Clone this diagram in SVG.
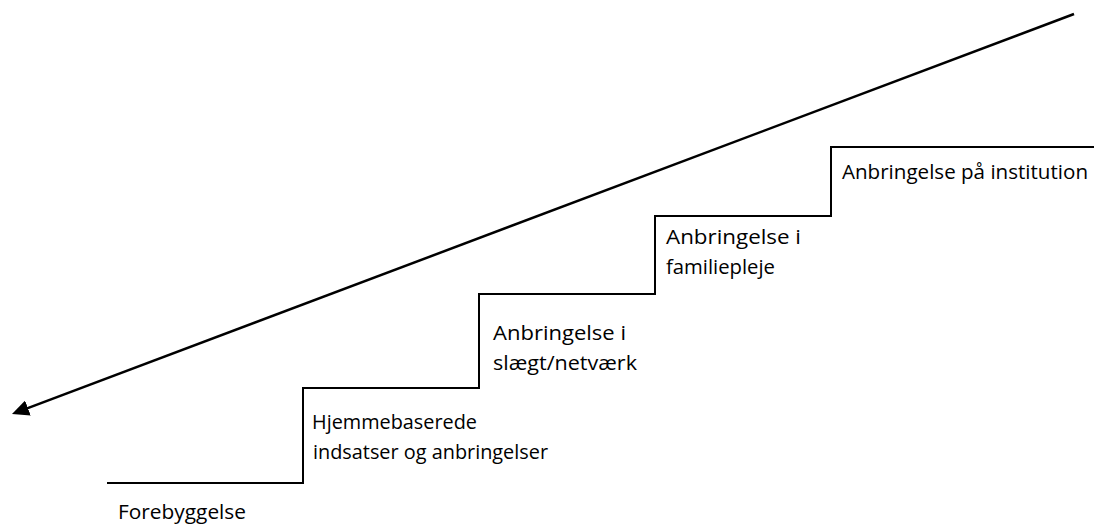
<svg xmlns="http://www.w3.org/2000/svg" width="1094" height="526" viewBox="0 0 1094 526">
<style>
  .lbl { font-family: "Open Sans", "Liberation Sans", Arial, sans-serif; font-size: 20.5px; fill: #000; }
  .stair { fill: none; stroke: #000; stroke-width: 2; }
  .arrow { fill: none; stroke: #000; stroke-width: 2.5; }
</style>
<defs>
  <marker id="head" viewBox="0 0 17 16" refX="3" refY="8" markerWidth="17" markerHeight="16" markerUnits="userSpaceOnUse" orient="auto">
    <path d="M0,0 L17,8 L0,16 z" fill="#000"/>
  </marker>
</defs>
<rect width="1094" height="526" fill="#fff"/>
<g id="connectors">
  <path id="stairs" class="stair" d="M107,483 H303 V388 H479 V294 H655 V216 H831 V147 H1094"/>
  <line id="arrow" class="arrow" x1="1074" y1="14" x2="25.1" y2="409.1" marker-end="url(#head)"/>
</g>
<g id="forebyggelse">
  <text class="lbl" x="118" y="519" textLength="128" lengthAdjust="spacingAndGlyphs">Forebyggelse</text>
</g>
<g id="hjemmebaserede">
  <text class="lbl" x="312" y="429" textLength="165" lengthAdjust="spacingAndGlyphs">Hjemmebaserede</text>
  <text class="lbl" x="313" y="459" textLength="235" lengthAdjust="spacingAndGlyphs">indsatser og anbringelser</text>
</g>
<g id="slaegt">
  <text class="lbl" x="493" y="340" textLength="133" lengthAdjust="spacingAndGlyphs">Anbringelse i</text>
  <text class="lbl" x="493" y="370" textLength="144" lengthAdjust="spacingAndGlyphs">slægt/netværk</text>
</g>
<g id="familiepleje">
  <text class="lbl" x="666" y="244" textLength="135" lengthAdjust="spacingAndGlyphs">Anbringelse i</text>
  <text class="lbl" x="666" y="274" textLength="109" lengthAdjust="spacingAndGlyphs">familiepleje</text>
</g>
<g id="institution">
  <text class="lbl" x="842" y="179" textLength="246" lengthAdjust="spacingAndGlyphs">Anbringelse på institution</text>
</g>
</svg>
